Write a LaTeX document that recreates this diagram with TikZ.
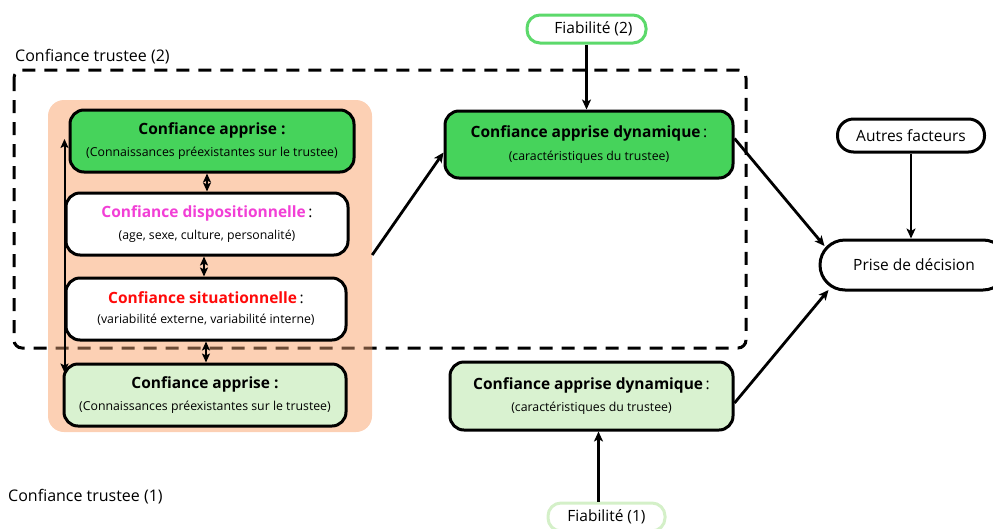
\documentclass[tikz,border=0pt]{standalone}
\usepackage{fontspec}
\setmainfont{Open Sans}
\usetikzlibrary{arrows.meta}
\definecolor{peach}{HTML}{FCD0B4}
\definecolor{gfill}{HTML}{46D35B}
\definecolor{lgfill}{HTML}{D9F2D0}
\definecolor{pinkt}{HTML}{F23FD6}
\definecolor{redt}{HTML}{FF0A0A}
\definecolor{fiabg}{HTML}{5CD96B}
\definecolor{fiablg}{HTML}{D4F0C8}
\definecolor{browndash}{HTML}{6B4A35}
\newcommand{\ttl}[1]{{\fontsize{15.5}{18}\selectfont\bfseries #1}}
\newcommand{\ttc}{{\fontsize{15.5}{18}\selectfont :}}
\newcommand{\sub}[1]{{\fontsize{12.3}{14}\selectfont #1}}
\begin{document}
\begin{tikzpicture}[x=1pt,y=-1pt,
  box/.style={draw=black,line width=3pt,rounded corners=14pt,align=center,inner sep=0pt},
  pill/.style={draw=black,line width=3pt,rounded corners=13pt,inner sep=0pt,font=\fontsize{15.5}{18}\selectfont},
  arr/.style={line width=2.8pt,-{Stealth[length=10pt,width=9pt,inset=2.5pt]}},
  dbl/.style={line width=2pt,{Stealth[length=9pt,width=8pt,inset=2pt]}-{Stealth[length=9pt,width=8pt,inset=2pt]}},
  zone/.style={dashed,dash pattern=on 13pt off 9pt,line width=3pt,rounded corners=8pt},
  lbl/.style={anchor=west,inner sep=0pt,font=\fontsize{16}{18}\selectfont}]
\useasboundingbox (0,0) rectangle (993,528);

% dashed zone (2)
\draw[zone,black] (14,70) rectangle (746,348);
\node[lbl] (lab2) at (15,57) {Confiance trustee (2)};
\node[lbl] (lab1) at (8,497) {Confiance trustee (1)};

% peach group
\node[fill=peach,rounded corners=16pt,minimum width=324pt,minimum height=332pt,inner sep=0pt] (grp) at (210,266) {};
\begin{scope}
  \clip (48,100) rectangle (372,432);
  \draw[zone,browndash] (14,70) rectangle (746,348);
\end{scope}

% left column
\node[box,fill=gfill,minimum width=284pt,minimum height=62pt] (appT) at (212,141)
  {\ttl{Confiance apprise :}\\[8pt]\sub{(Connaissances préexistantes sur le trustee)}};
\node[box,fill=white,minimum width=282pt,minimum height=62pt] (dispo) at (207,224)
  {\ttl{\textcolor{pinkt}{Confiance dispositionnelle}} \ttc\\[8pt]\sub{(age, sexe, culture, personalité)}};
\node[box,fill=white,minimum width=280pt,minimum height=62pt] (situ) at (206,309)
  {\ttl{\textcolor{redt}{Confiance situationnelle}} \ttc\\[8pt]\sub{(variabilité externe, variabilité interne)}};
\node[box,fill=lgfill,minimum width=282pt,minimum height=62pt] (appB) at (205,395)
  {\ttl{Confiance apprise :}\\[8pt]\sub{(Connaissances préexistantes sur le trustee)}};

\draw[dbl] (appT.south -| dispo.north) -- (dispo.north);
\draw[dbl] ([xshift=-3pt]dispo.south) -- ([xshift=-3pt]dispo.south |- situ.north);
\draw[dbl] (situ.south) -- (situ.south |- appB.north);
\draw[dbl] ([xshift=-4pt,yshift=2pt]appT.west) -- ([xshift=-4pt,yshift=-10pt]appT.west |- appB.north);

% right column
\node[box,fill=gfill,minimum width=288pt,minimum height=67pt] (dynT) at (589,144.5)
  {\ttl{Confiance apprise dynamique} \ttc\\[8pt]\sub{(caractéristiques du trustee)}};
\node[box,fill=lgfill,minimum width=283pt,minimum height=68pt] (dynB) at (591.5,396)
  {\ttl{Confiance apprise dynamique} \ttc\\[8pt]\sub{(caractéristiques du trustee)}};

\node[pill,draw=fiabg,fill=white,minimum width=119pt,minimum height=28pt] (fiab2) at (586.5,29) {\hspace{14pt}Fiabilité (2)};
\node[pill,draw=fiablg,fill=white,minimum width=117pt,minimum height=28pt] (fiab1) at (606.5,517) {Fiabilité (1)};

\node[pill,fill=white,minimum width=188pt,minimum height=50pt,rounded corners=25pt] (prise) at (914,265) {Prise de décision};
\node[pill,fill=white,minimum width=147pt,minimum height=33pt,rounded corners=16pt] (autres) at (911,135.5) {Autres facteurs};

% connectors
\draw[arr] (fiab2.south) -- (fiab2.south |- dynT.north);
\draw[arr] ([xshift=-8pt]fiab1.north) -- ([xshift=-8pt]fiab1.north |- dynB.south);
\draw[arr] ([yshift=11pt]grp.east) -- ([yshift=-8pt]dynT.west);
\draw[arr] ([yshift=6pt]dynT.east) -- ([xshift=6pt,yshift=19pt]prise.west);
\draw[arr] ([yshift=-7pt]dynB.east) -- ([xshift=10pt,yshift=-25pt]prise.west);
\draw[arr] (autres.south) -- (autres.south |- prise.north);
\end{tikzpicture}
\end{document}
